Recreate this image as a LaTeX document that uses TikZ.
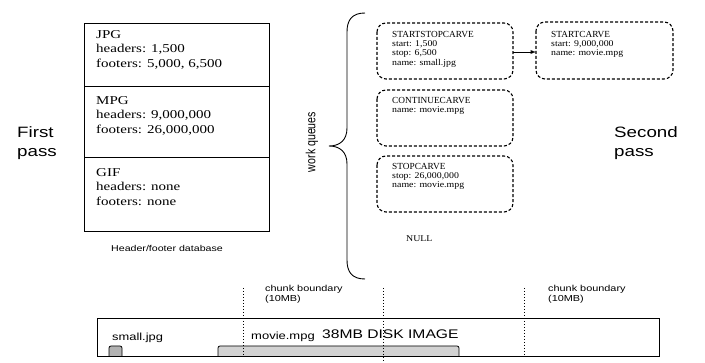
\documentclass[tikz,border=0pt]{standalone}
\usepackage{fontspec}
\usepackage{graphicx}
\setmainfont{Liberation Serif}
\setsansfont{Liberation Sans}
\newfontfamily\dbfont{Liberation Serif}[FakeStretch=1.25]
\newfontfamily\qfont{Liberation Serif}[FakeStretch=1.12]
\newfontfamily\widesans{Liberation Sans}[FakeStretch=1.25]
\begin{document}
\begin{tikzpicture}[x=1pt,y=-1pt,
  dbtext/.style={anchor=north west,inner sep=0pt,align=left,font=\dbfont\fontsize{12}{14.7}\selectfont},
  qbox/.style={draw,line width=1.1pt,dash pattern=on 3pt off 2pt,rounded corners=9pt},
  qtitle/.style={anchor=north west,inner sep=0pt,font=\fontsize{9.3}{10}\selectfont},
  qtext/.style={anchor=north west,inner sep=0pt,align=left,font=\qfont\fontsize{8.8}{9.6}\selectfont},
  label/.style={inner sep=0pt,font=\widesans\fontsize{15}{19}\selectfont,align=left},
  chunk/.style={anchor=north west,inner sep=0pt,align=left,font=\widesans\fontsize{8.7}{9.5}\selectfont},
  bound/.style={line width=0.9pt,dash pattern=on 1.5pt off 1.5pt}]
\useasboundingbox (0,0) rectangle (705,363);

% header/footer database
\draw[line width=0.9pt] (84,23) rectangle (269,231);
\draw[line width=0.9pt] (84,86) -- (269,86);
\draw[line width=0.9pt] (84,157) -- (269,157);
\node[dbtext] (jpg) at (96,30) {JPG\\headers: 1,500\\footers: 5,000, 6,500};
\node[dbtext] (mpg) at (96,96) {MPG\\headers: 9,000,000\\footers: 26,000,000};
\node[dbtext] (gif) at (96,168) {GIF\\headers: none\\footers: none};
\node[inner sep=0pt,font=\widesans\fontsize{8.5}{12}\selectfont] (dbcap) at (167,248) {Header/footer database};

% pass labels
\node[label,anchor=west] (first) at (17,143) {First\\pass};
\node[label,anchor=west] (second) at (614,143) {Second\\pass};

% work queue brace
\draw[line width=0.9pt] (365,13) .. controls (352,13) and (347,20) .. (347,32)
  -- (347,128) .. controls (347,140) and (340,146) .. (329,146)
  .. controls (340,146) and (347,152) .. (347,164)
  -- (347,260) .. controls (347,272) and (352,279) .. (365,279);
\node[rotate=90,inner sep=0pt,font=\sffamily\fontsize{10.6}{13}\selectfont] (wq) at (312,142) {\scalebox{1}[1.25]{work queues}};

% queue entries
\draw[qbox] (377,23) rectangle (513,79);
\coordinate (q1) at (513,52);
\node[qtitle] (t1) at (392,31) {STARTSTOPCARVE};
\node[qtext] (b1) at (392,40) {start: 1,500\\stop: 6,500\\name: small.jpg};

\draw[qbox] (377,90) rectangle (513,146);
\node[qtitle] (t2) at (392,97) {CONTINUECARVE};
\node[qtext] (b2) at (392,106) {name: movie.mpg};

\draw[qbox] (377,156) rectangle (513,212);
\node[qtitle] (t3) at (392,163) {STOPCARVE};
\node[qtext] (b3) at (392,172) {stop: 26,000,000\\name: movie.mpg};

\node[qtext] (null) at (406,236) {NULL};

\draw[qbox] (536,22) rectangle (673,79);
\coordinate (q4) at (536,52);
\node[qtitle] (t4) at (551,31) {STARTCARVE};
\node[qtext] (b4) at (551,40) {start: 9,000,000\\name: movie.mpg};

\draw[line width=0.9pt,-latex] (q1) -- (q4);

% disk image
\draw[line width=0.9pt] (97,318) rectangle (659,356);
\draw[fill=gray!60,line width=0.8pt,rounded corners=2pt] (109,356) -- (109,346) -- (122,346) -- (122,356);
\draw[fill=gray!35,line width=0.8pt,rounded corners=2pt] (218,356) -- (218,346) -- (459,346) -- (459,356);
\node[anchor=base west,inner sep=0pt,font=\widesans\fontsize{10.3}{12}\selectfont] (small) at (112,341) {small.jpg};
\node[anchor=base west,inner sep=0pt,font=\widesans\fontsize{10.4}{12}\selectfont] (movie) at (251,340) {movie.mpg};
\node[anchor=base west,inner sep=0pt,font=\widesans\fontsize{12.5}{16}\selectfont] (disk) at (322,339) {38MB DISK IMAGE};

% chunk boundaries
\coordinate (c1t) at (243,288); \coordinate (c1b) at (243,356);
\coordinate (c2t) at (383,288); \coordinate (c2b) at (383,363);
\coordinate (c3t) at (524,288); \coordinate (c3b) at (524,356);
\draw[bound] (c1t) -- (c1b);
\draw[bound] (c2t) -- (c2b);
\draw[bound] (c3t) -- (c3b);
\node[chunk] (cb1) at (265,285) {chunk boundary\\(10MB)};
\node[chunk] (cb2) at (548,285) {chunk boundary\\(10MB)};
\end{tikzpicture}
\end{document}
